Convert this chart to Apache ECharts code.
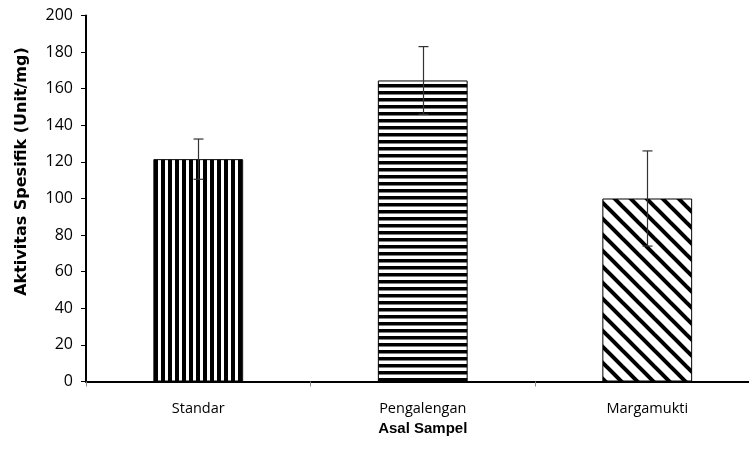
<!DOCTYPE html>
<html><head><meta charset="utf-8">
<script src="https://cdn.jsdelivr.net/npm/echarts@6/dist/echarts.min.js"></script>
<style>html,body{margin:0;padding:0;background:#fff;overflow:hidden;width:749px;height:470px}#c{width:762px;height:470px}</style>
</head><body><div id="c"></div>
<script>
const categories = ['Standar', 'Pengalengan', 'Margamukti'];
const values = [121.5, 164.5, 100];
const errors = [11, 18.5, 26];
const yTicks = [0, 20, 40, 60, 80, 100, 120, 140, 160, 180, 200];

function pattern(kind) {
  const c = document.createElement('canvas');
  const ctx = c.getContext('2d');
  if (kind === 'v') {
    c.width = 7; c.height = 7;
    ctx.fillStyle = '#fff'; ctx.fillRect(0, 0, 7, 7);
    ctx.fillStyle = '#000'; ctx.fillRect(0, 0, 4, 7);
  } else if (kind === 'h') {
    c.width = 8; c.height = 7;
    ctx.fillStyle = '#fff'; ctx.fillRect(0, 0, 8, 7);
    ctx.fillStyle = '#000'; ctx.fillRect(0, 0, 8, 3.5);
  } else {
    const s = 16;
    c.width = s; c.height = s;
    ctx.fillStyle = '#fff'; ctx.fillRect(0, 0, s, s);
    ctx.strokeStyle = '#000'; ctx.lineWidth = 4;
    for (let k = -1; k <= 1; k++) {
      ctx.beginPath();
      ctx.moveTo(k * s - 2, -2);
      ctx.lineTo(k * s + s + 2, s + 2);
      ctx.stroke();
    }
  }
  return { image: c, repeat: 'repeat' };
}
const patterns = [pattern('v'), pattern('h'), pattern('d')];

const font = "'Open Sans', 'Liberation Sans', Arial, sans-serif";
const boldFont = "'DejaVu Sans', 'Liberation Sans', Arial, sans-serif";
const chart = echarts.init(document.getElementById('c'));
chart.setOption({
  animation: false,
  grid: { left: 86, top: 15.5, width: 673.5, height: 366 },
  xAxis: {
    type: 'category', data: categories,
    name: 'Asal Sampel', nameLocation: 'middle', nameGap: 40,
    nameTextStyle: { fontFamily: "'Liberation Sans', Arial, sans-serif", fontWeight: 'bold', fontSize: 15, color: '#000' },
    axisLine: { lineStyle: { color: '#000', width: 2 } },
    axisTick: { show: true, length: 5, lineStyle: { color: '#888', width: 1 }, alignWithLabel: false },
    axisLabel: { fontFamily: font, fontSize: 14.5, color: '#000', margin: 20 }
  },
  yAxis: {
    type: 'value', min: yTicks[0], max: yTicks[yTicks.length - 1], interval: 20,
    name: 'Aktivitas Spesifik (Unit/mg)', nameLocation: 'middle', nameGap: 56,
    nameTextStyle: { fontFamily: boldFont, fontWeight: 'bold', fontSize: 16, color: '#000', padding: [0, 0, 0, 54] },
    axisLine: { show: true, lineStyle: { color: '#000', width: 2 } },
    axisTick: { show: true, length: 5, lineStyle: { color: '#000', width: 1 } },
    axisLabel: { fontFamily: font, fontSize: 16, color: '#000', margin: 13 },
    splitLine: { show: false }
  },
  series: [
    {
      type: 'bar', barWidth: '40%',
      data: values.map((v, i) => ({ value: v, itemStyle: { color: patterns[i] } })),
      itemStyle: { borderColor: '#000', borderWidth: 1 }
    },
    {
      type: 'custom',
      data: values.map((v, i) => [i, v - errors[i], v + errors[i]]),
      renderItem: function (params, api) {
        const lo = api.coord([api.value(0), api.value(1)]);
        const hi = api.coord([api.value(0), api.value(2)]);
        const x = Math.round(lo[0]) + 0.5;
        const hw = 5;
        const st = { stroke: '#333', lineWidth: 1.2 };
        return {
          type: 'group',
          children: [
            { type: 'line', shape: { x1: x, y1: hi[1], x2: x, y2: lo[1] }, style: st },
            { type: 'line', shape: { x1: x - hw, y1: hi[1], x2: x + hw, y2: hi[1] }, style: st },
            { type: 'line', shape: { x1: x - hw, y1: lo[1], x2: x + hw, y2: lo[1] }, style: st }
          ]
        };
      },
      z: 10
    }
  ]
});
</script></body></html>
